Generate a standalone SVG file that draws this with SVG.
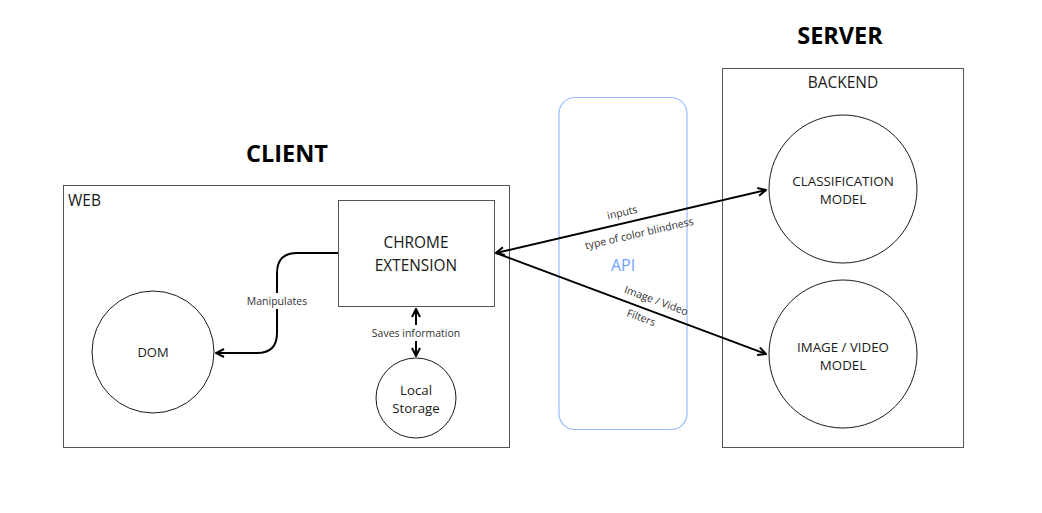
<svg xmlns="http://www.w3.org/2000/svg" width="1042" height="513" viewBox="0 0 1042 513">
<style>
  text { font-family: "Open Sans", "Noto Sans", "Liberation Sans", sans-serif; fill: #1a1a1a; }
  .box { fill: #ffffff; stroke: #555555; stroke-width: 1; }
  .node { fill: #ffffff; stroke: #1a1a1a; stroke-width: 1; }
  .lbl { font-size: 14px; text-anchor: middle; }
  .small { font-size: 10.5px; text-anchor: middle; fill: #333333; }
  .title { font-size: 23.5px; font-weight: bold; text-anchor: middle; fill: #000000; }
  .conn { fill: none; stroke: #000000; stroke-width: 2; }
</style>
<defs>
  <marker id="arrow" viewBox="0 0 10 10" refX="9" refY="5" markerWidth="5" markerHeight="5" orient="auto-start-reverse" markerUnits="strokeWidth">
    <path d="M1,1 L9,5 L1,9" fill="none" stroke="#000000" stroke-width="2"/>
  </marker>
</defs>
<rect width="1042" height="513" fill="#ffffff"/>

<g id="titles">
  <text class="title" x="287" y="162">CLIENT</text>
  <text class="title" x="840" y="44">SERVER</text>
</g>

<g id="web">
  <rect class="box" x="63.5" y="185.5" width="446" height="262"/>
  <text x="68" y="206" style="font-size:15.5px">WEB</text>
</g>

<g id="backend">
  <rect class="box" x="722.5" y="68.5" width="241" height="379"/>
  <text class="lbl" x="843" y="88" style="font-size:15.5px">BACKEND</text>
</g>

<g id="api">
  <rect x="559" y="97.5" width="128" height="332" rx="16" fill="none" stroke="#99BBFF" stroke-width="1.2"/>
  <text x="623" y="271" style="font-size:16px; fill:#6FA3FF; text-anchor:middle">API</text>
</g>

<g id="chrome-extension">
  <rect class="node" x="338.5" y="200.5" width="156" height="106" style="stroke:#555555"/>
  <text class="lbl" x="416" y="248" style="font-size:15.4px">CHROME</text>
  <text class="lbl" x="416" y="271" style="font-size:15.4px">EXTENSION</text>
</g>

<g id="dom">
  <circle class="node" cx="153" cy="352" r="61"/>
  <text class="lbl" x="153" y="357" style="font-size:13px">DOM</text>
</g>

<g id="local-storage">
  <circle class="node" cx="416" cy="398" r="40"/>
  <text class="lbl" x="416" y="395" style="font-size:13.3px">Local</text>
  <text class="lbl" x="416" y="413" style="font-size:13.3px">Storage</text>
</g>

<g id="classification-model">
  <circle class="node" cx="843" cy="189" r="74"/>
  <text class="lbl" x="843" y="186" style="font-size:13.4px">CLASSIFICATION</text>
  <text class="lbl" x="843" y="204" style="font-size:13.4px">MODEL</text>
</g>

<g id="image-video-model">
  <circle class="node" cx="843" cy="354" r="74"/>
  <text class="lbl" x="843" y="352" style="font-size:13.3px">IMAGE / VIDEO</text>
  <text class="lbl" x="843" y="370" style="font-size:13.3px">MODEL</text>
</g>

<g id="connectors">
  <path class="conn" d="M338,253 L297,253 Q277,253 277,273 L277,333 Q277,353 257,353 L216,353" marker-end="url(#arrow)"/>
  <rect x="244" y="293" width="66" height="16" fill="#ffffff"/>
  <text class="small" x="277" y="305">Manipulates</text>

  <path class="conn" d="M416,309 L416,356" marker-start="url(#arrow)" marker-end="url(#arrow)"/>
  <rect x="368" y="325" width="96" height="16" fill="#ffffff"/>
  <text class="small" x="416" y="337">Saves information</text>

  <path class="conn" d="M496,253 L766,190" marker-start="url(#arrow)" marker-end="url(#arrow)"/>
  <path class="conn" d="M496,253 L766,354" marker-end="url(#arrow)"/>

  <text class="small" transform="translate(623,216) rotate(-12.9)">inputs</text>
  <text class="small" transform="translate(640,237) rotate(-12.9)">type of color blindness</text>
  <text class="small" transform="translate(655,304) rotate(20.2)">Image / Video</text>
  <text class="small" transform="translate(640,321) rotate(20.2)">Filters</text>
</g>
</svg>
